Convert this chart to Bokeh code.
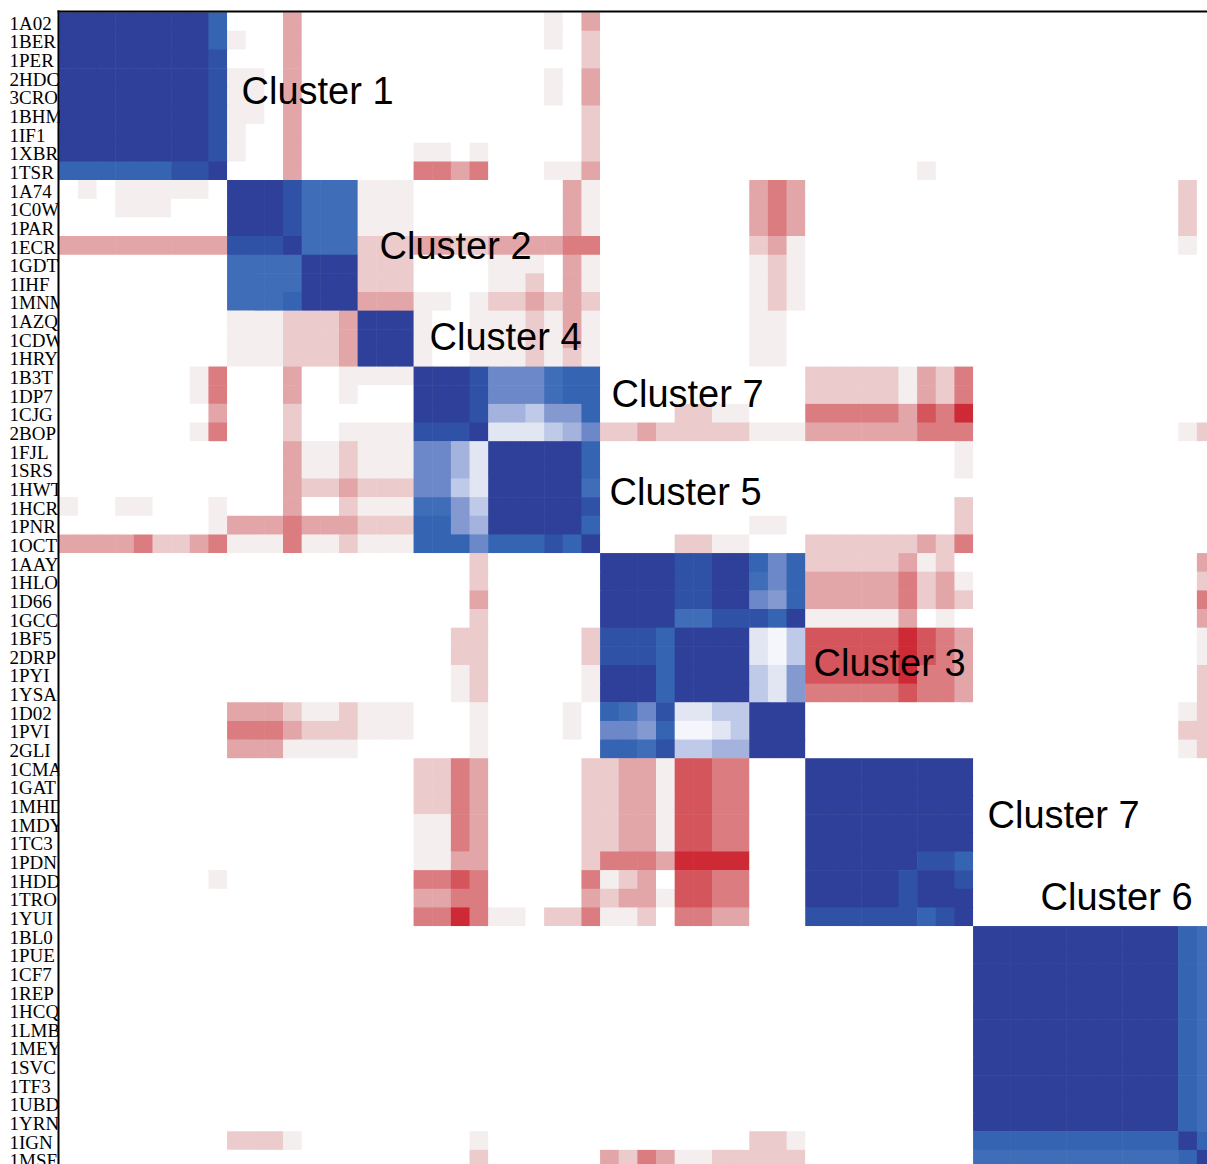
from bokeh.plotting import figure
from bokeh.models import ColumnDataSource, LinearColorMapper, Range1d
from bokeh.core.properties import value
from bokeh.embed import file_html
from bokeh.resources import INLINE

# ---------------- data ----------------
proteins = ["1A02", "1BER", "1PER", "2HDC", "3CRO", "1BHM", "1IF1", "1XBR", "1TSR",
            "1A74", "1C0W", "1PAR", "1ECR", "1GDT", "1IHF", "1MNM",
            "1AZQ", "1CDW", "1HRY",
            "1B3T", "1DP7", "1CJG", "2BOP",
            "1FJL", "1SRS", "1HWT", "1HCR", "1PNR", "1OCT",
            "1AAY", "1HLO", "1D66", "1GCC", "1BF5", "2DRP", "1PYI", "1YSA", "1D02", "1PVI", "2GLI",
            "1CMA", "1GAT", "1MHD", "1MDY", "1TC3", "1PDN", "1HDD", "1TRO", "1YUI",
            "1BL0", "1PUE", "1CF7", "1REP", "1HCQ", "1LMB", "1MEY", "1SVC", "1TF3", "1UBD", "1YRN",
            "1IGN", "1MSE"]

cluster_names = ["Cluster 1", "Cluster 2", "Cluster 4", "Cluster 7",
                 "Cluster 5", "Cluster 3", "Cluster 7", "Cluster 6"]

# similarity levels, one character per cell
# '.' = 0 ; '0'..'9' = positive (blue, 9 strongest) ; 'a'..'f' = negative (red, f strongest)
level_values = {'.': 0.0, '0': 0.04, '1': 0.1, '2': 0.22, '3': 0.33, '4': 0.45, '5': 0.55,
                '6': 0.68, '7': 0.78, '8': 0.88, '9': 1.0,
                'a': -0.08, 'b': -0.2, 'c': -0.35, 'd': -0.5, 'e': -0.68, 'f': -0.9}

similarity_rows = [
    "999999997 ...c... ... .... ...a.c ........... ......... .............",
    "999999997 a..c... ... .... ...a.b ........... ......... .............",
    "999999998 ...c... ... .... .....b ........... ......... .............",
    "999999998 aa.c... ... .... ...a.c ........... ......... .............",
    "999999998 aa.c... ... .... ...a.c ........... ......... .............",
    "999999998 aa.c... ... .... .....b ........... ......... .............",
    "999999998 a..c... ... .... .....b ........... ......... .............",
    "999999998 a..c... ... aa.a .....b ........... ......... .............",
    "777777889 ...c... ... ddcd ...aac ........... ......a.. .............",
    ".a.aaaaa. 9998666 aaa .... ....ca ........cdc ......... ...........b.",
    "...aaa... 9998666 aaa .... ....ca ........cdc ......... ...........b.",
    "......... 9998666 aaa .... ....ca ........cdc ......... ...........b.",
    "ccccccccc 8889666 bbb ccbb ccccdd ........bca ......... ...........a.",
    "......... 6666999 bbb .... aaa.ca ........aba ......... .............",
    "......... 6666999 bbb .... aab.ca ........aba ......... .............",
    "......... 6667999 ccc aa.a bbcbcb ........aba ......... .............",
    "......... aaabbbc 999 a..a aabaca ........aa. ......... .............",
    "......... aaabbbc 999 a..a aabaca ........aa. ......... .............",
    "......... aaabbbc 999 a..a aababa ........aa. ......... .............",
    ".......ad ...c..a aaa 9998 555677 ........... bbbbbacbd .............",
    ".......ad ...c..a ... 9998 555677 ........... bbbbbacbd .............",
    "........c ...b... ... 9998 332447 ....bbaa... dddddcedf .............",
    ".......ad ...b..a aaa 8889 111235 bbcbbbbbaaa ccccccddd ...........ab",
    "......... ...caab aaa 5531 999997 ........... ........a .............",
    "......... ...caab aaa 5531 999997 ........... ........a .............",
    "......... ...cbbc bbb 5521 999996 ........... ......... .............",
    "a..aa...a ...c..b aaa 6642 999998 ........... ........b .............",
    "........a cccdccc bbb 7743 999997 ........aa. ........b .............",
    "ccccdbbcd aaadaab aaa 7775 777879 ....bbaa... bbbbbbcbd .............",
    "......... ....... ... ...b ...... 99998899757 bbbbbcab. ............c",
    "......... ....... ... ...b ...... 99998899657 cccccdbca ............b",
    "......... ....... ... ...c ...... 99998899547 cccccdbcb ............d",
    "......... ....... ... ...b ...... 99996688879 aaaaac.a. ............c",
    "......... ....... ... ..bb .....b 88879999102 eeeeefedc ............a",
    "......... ....... ... ..bb .....b 88879999102 eeeeefedc ............a",
    "......... ....... ... ..ab .....a 99979999214 eeeeefddc ............b",
    "......... ....... ... ..ab .....a 99979999214 dddddeddc ............b",
    "......... cccbaab aaa ...a ....a. 76581122999 ......... ...........ab",
    "......... dddcbbb aaa ...a ....a. 55470012999 ......... ...........bb",
    "......... cccaaaa ... ...a ...... 77682233999 ......... ...........ab",
    "......... ....... ... bbdc .....b bccaeedd... 999999999 .............",
    "......... ....... ... bbdc .....b bccaeedd... 999999999 .............",
    "......... ....... ... bbdc .....b bccaeedd... 999999999 .............",
    "......... ....... ... aadc .....b bccaeedd... 999999999 .............",
    "......... ....... ... aadc .....b bccaeedd... 999999999 .............",
    "......... ....... ... aacc .....b dddcffff... 999999887 .............",
    "........a ....... ... dded .....d abc.eedd... 999998998 .............",
    "......... ....... ... ccdd .....c bccaeedd... 999998999 .............",
    "......... ....... ... ddfd aa.bbd aab.ddcc... 888888789 .............",
    "......... ....... ... .... ...... ........... ......... 9999999999976",
    "......... ....... ... .... ...... ........... ......... 9999999999976",
    "......... ....... ... .... ...... ........... ......... 9999999999976",
    "......... ....... ... .... ...... ........... ......... 9999999999976",
    "......... ....... ... .... ...... ........... ......... 9999999999976",
    "......... ....... ... .... ...... ........... ......... 9999999999976",
    "......... ....... ... .... ...... ........... ......... 9999999999976",
    "......... ....... ... .... ...... ........... ......... 9999999999976",
    "......... ....... ... .... ...... ........... ......... 9999999999976",
    "......... ....... ... .... ...... ........... ......... 9999999999976",
    "......... ....... ... .... ...... ........... ......... 9999999999976",
    "......... bbba... ... ...a ...... ........bba ......... 7777777777797",
    "......... ....... ... ...b ...... cbdcaabbbbb ......... 6666666666679",
]

# ---------------- build cells ----------------
n = len(proteins)
xs, ys, vs = [], [], []
for i, row in enumerate(similarity_rows):
    r = row.replace(" ", "")
    if len(r) != n:
        raise ValueError("row %d (%s) has %d cells" % (i, proteins[i], len(r)))
    for j, ch in enumerate(r):
        xs.append(j + 0.5)
        ys.append(i + 0.5)
        vs.append(level_values[ch])

# diverging palette (red - white - blue)
anchors = [(-1.0, "#C41E2A"), (-0.9, "#CD2A35"), (-0.68, "#D4555B"), (-0.5, "#DB7D80"),
           (-0.35, "#E3A6A8"), (-0.2, "#ECCBCC"), (-0.08, "#F4EEEE"), (0.0, "#FFFFFF"),
           (0.04, "#F4F6FB"), (0.1, "#E2E6F3"), (0.22, "#BFC9E8"), (0.33, "#A3B3DD"),
           (0.45, "#8399D0"), (0.55, "#6C88C8"), (0.68, "#3F6DB8"), (0.78, "#3464B2"),
           (0.88, "#2F52A7"), (1.0, "#2E4099")]


def hex2rgb(h):
    return tuple(int(h[k:k + 2], 16) for k in (1, 3, 5))


def color_at(v):
    for (v0, c0), (v1, c1) in zip(anchors[:-1], anchors[1:]):
        if v0 <= v <= v1:
            t = 0 if v1 == v0 else (v - v0) / (v1 - v0)
            a, b = hex2rgb(c0), hex2rgb(c1)
            return "#%02x%02x%02x" % tuple(int(round(a[k] + (b[k] - a[k]) * t)) for k in range(3))
    return anchors[-1][1] if v > 0 else anchors[0][1]


NPAL = 401
palette = [color_at(-1 + (k + 0.5) * 2.0 / NPAL) for k in range(NPAL)]
mapper = LinearColorMapper(palette=palette, low=-1, high=1)

# ---------------- figure ----------------
CELL = 18.65
W, H = 1207, 1164
left_px, top_px = 59, 12          # position of the first cell on the canvas
X0, X1 = -left_px / CELL, (W - left_px) / CELL
Y0, Y1 = -top_px / CELL, (H - top_px) / CELL
p = figure(width=W, height=H, output_backend="svg", toolbar_location=None, title=None,
           x_axis_location=None, y_axis_location=None,
           x_range=Range1d(X0, X1), y_range=Range1d(Y1, Y0),
           min_border_left=0, min_border_top=0, min_border_right=0, min_border_bottom=0)
for g in p.grid:
    g.visible = False
p.outline_line_color = None
p.background_fill_color = "white"
p.border_fill_color = "white"

# row labels, left aligned near the page edge (drawn first: the cells cover any overflow)
lab_src = ColumnDataSource(dict(x=[(9 - left_px) / CELL] * n,
                                y=[i + 0.575 for i in range(n)], name=proteins))
p.text(x="x", y="y", text="name", source=lab_src,
       text_font=value("Liberation Serif"), text_font_size=value("19px"),
       text_align=value("left"), text_baseline=value("middle"),
       text_color=value("black"))

# heatmap cells
src = ColumnDataSource(dict(x=xs, y=ys, v=vs))
p.rect(x="x", y="y", width=1.03, height=1.03, source=src,
       fill_color={"field": "v", "transform": mapper}, line_color=None)

# frame lines (top and left)
p.segment(x0=[-2 / CELL], y0=[-1 / CELL], x1=[X1], y1=[-1 / CELL],
          line_color="black", line_width=2)
p.segment(x0=[-1 / CELL], y0=[-2 / CELL], x1=[-1 / CELL], y1=[Y1],
          line_color="black", line_width=2)

# cluster captions (canvas pixel anchor: left edge, vertical middle of the capitals)
cap_px = [(241, 90), (379, 245), (429, 336), (611, 393),
          (609, 491), (813, 662), (987, 814), (1040, 896)]
cap_src = ColumnDataSource(dict(x=[(a - left_px) / CELL for a, b in cap_px],
                                y=[(b - top_px) / CELL for a, b in cap_px],
                                t=cluster_names))
p.text(x="x", y="y", text="t", source=cap_src,
       text_font=value("Liberation Sans"), text_font_size=value("38px"),
       text_align=value("left"), text_baseline=value("middle"),
       text_color=value("black"))

open("out.html", "w").write(file_html(p, INLINE))
